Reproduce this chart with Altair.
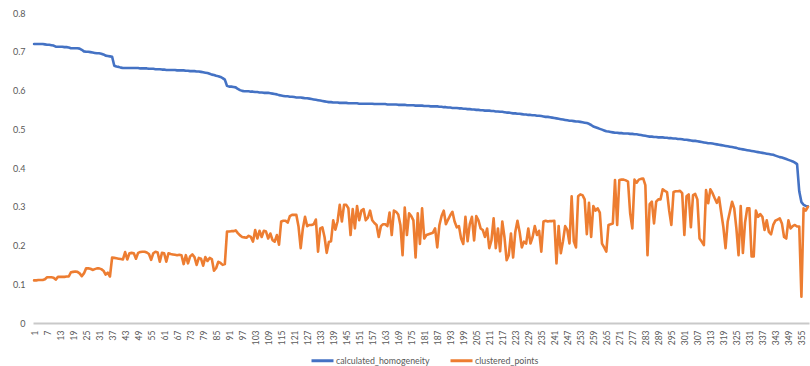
import altair as alt
import pandas as pd

# Series names and colours
series_names = ["calculated_homogeneity", "clustered_points"]
series_colors = ["#4472C4", "#ED7D31"]

# calculated_homogeneity, one value per item (1..358)
homogeneity = [
    0.720, 0.720, 0.720, 0.720, 0.720, 0.719, 0.718, 0.718, 0.717, 0.716,
    0.713, 0.713, 0.713, 0.713, 0.712, 0.712, 0.711, 0.709, 0.709, 0.709,
    0.709, 0.708, 0.705, 0.701, 0.700, 0.700, 0.699, 0.698, 0.697, 0.696,
    0.696, 0.695, 0.693, 0.690, 0.689, 0.688, 0.687, 0.664, 0.662, 0.661,
    0.659, 0.658, 0.658, 0.658, 0.658, 0.658, 0.658, 0.658, 0.658, 0.657,
    0.657, 0.657, 0.657, 0.656, 0.656, 0.656, 0.655, 0.655, 0.655, 0.654,
    0.654, 0.653, 0.653, 0.653, 0.653, 0.653, 0.652, 0.652, 0.652, 0.652,
    0.651, 0.651, 0.650, 0.650, 0.650, 0.649, 0.649, 0.648, 0.647, 0.646,
    0.645, 0.643, 0.641, 0.640, 0.638, 0.637, 0.635, 0.632, 0.628, 0.612,
    0.610, 0.610, 0.609, 0.608, 0.604, 0.601, 0.599, 0.598, 0.598, 0.598,
    0.597, 0.597, 0.596, 0.596, 0.595, 0.595, 0.594, 0.594, 0.594, 0.593,
    0.592, 0.591, 0.590, 0.588, 0.587, 0.586, 0.585, 0.585, 0.584, 0.584,
    0.583, 0.582, 0.582, 0.582, 0.581, 0.580, 0.580, 0.579, 0.578, 0.577,
    0.576, 0.575, 0.574, 0.573, 0.572, 0.571, 0.570, 0.570, 0.569, 0.569,
    0.569, 0.568, 0.568, 0.568, 0.568, 0.567, 0.567, 0.567, 0.567, 0.567,
    0.566, 0.566, 0.566, 0.566, 0.566, 0.566, 0.566, 0.565, 0.565, 0.565,
    0.565, 0.565, 0.565, 0.564, 0.564, 0.564, 0.564, 0.564, 0.563, 0.563,
    0.563, 0.563, 0.562, 0.562, 0.562, 0.562, 0.561, 0.561, 0.561, 0.561,
    0.560, 0.560, 0.560, 0.559, 0.559, 0.559, 0.559, 0.558, 0.558, 0.557,
    0.557, 0.556, 0.556, 0.555, 0.555, 0.555, 0.554, 0.554, 0.553, 0.553,
    0.552, 0.552, 0.551, 0.551, 0.550, 0.550, 0.549, 0.549, 0.548, 0.548,
    0.548, 0.547, 0.547, 0.546, 0.546, 0.545, 0.545, 0.544, 0.543, 0.543,
    0.542, 0.541, 0.541, 0.540, 0.540, 0.539, 0.538, 0.538, 0.537, 0.537,
    0.536, 0.536, 0.535, 0.535, 0.534, 0.533, 0.532, 0.532, 0.531, 0.530,
    0.529, 0.528, 0.527, 0.526, 0.525, 0.524, 0.523, 0.522, 0.522, 0.521,
    0.520, 0.520, 0.519, 0.518, 0.517, 0.516, 0.514, 0.511, 0.507, 0.505,
    0.503, 0.501, 0.499, 0.497, 0.495, 0.494, 0.493, 0.492, 0.491, 0.491,
    0.490, 0.490, 0.489, 0.489, 0.489, 0.488, 0.488, 0.487, 0.487, 0.486,
    0.485, 0.484, 0.483, 0.482, 0.481, 0.481, 0.480, 0.480, 0.479, 0.479,
    0.479, 0.478, 0.478, 0.477, 0.477, 0.476, 0.476, 0.475, 0.475, 0.474,
    0.473, 0.473, 0.472, 0.471, 0.470, 0.470, 0.469, 0.468, 0.467, 0.466,
    0.465, 0.464, 0.464, 0.463, 0.462, 0.461, 0.460, 0.459, 0.458, 0.457,
    0.456, 0.455, 0.454, 0.453, 0.452, 0.450, 0.449, 0.448, 0.447, 0.446,
    0.445, 0.444, 0.443, 0.442, 0.441, 0.440, 0.439, 0.438, 0.437, 0.436,
    0.435, 0.434, 0.432, 0.430, 0.428, 0.427, 0.425, 0.423, 0.421, 0.419,
    0.417, 0.414, 0.410, 0.340, 0.312, 0.305, 0.302, 0.301,
]

# clustered_points, one value per item (1..358)
clustered = [
    0.110, 0.110, 0.111, 0.111, 0.111, 0.113, 0.118, 0.118, 0.118, 0.117,
    0.112, 0.119, 0.119, 0.119, 0.119, 0.120, 0.120, 0.131, 0.132, 0.133,
    0.132, 0.128, 0.121, 0.128, 0.141, 0.141, 0.140, 0.137, 0.139, 0.141,
    0.141, 0.139, 0.135, 0.125, 0.130, 0.120, 0.169, 0.168, 0.167, 0.166,
    0.165, 0.164, 0.183, 0.164, 0.180, 0.181, 0.180, 0.166, 0.181, 0.183,
    0.184, 0.184, 0.182, 0.178, 0.163, 0.180, 0.184, 0.182, 0.158, 0.181,
    0.180, 0.158, 0.180, 0.178, 0.177, 0.176, 0.175, 0.176, 0.175, 0.152,
    0.175, 0.154, 0.172, 0.177, 0.170, 0.150, 0.168, 0.166, 0.148, 0.170,
    0.160, 0.168, 0.165, 0.135, 0.142, 0.158, 0.155, 0.150, 0.152, 0.236,
    0.236, 0.237, 0.237, 0.239, 0.232, 0.226, 0.222, 0.221, 0.220, 0.225,
    0.222, 0.210, 0.240, 0.218, 0.238, 0.222, 0.238, 0.236, 0.218, 0.231,
    0.214, 0.210, 0.227, 0.202, 0.262, 0.264, 0.264, 0.259, 0.276, 0.279,
    0.279, 0.279, 0.249, 0.193, 0.244, 0.274, 0.250, 0.253, 0.253, 0.255,
    0.267, 0.184, 0.244, 0.247, 0.222, 0.181, 0.209, 0.211, 0.265, 0.241,
    0.262, 0.305, 0.262, 0.305, 0.305, 0.296, 0.227, 0.294, 0.244, 0.302,
    0.265, 0.290, 0.294, 0.265, 0.272, 0.290, 0.265, 0.258, 0.253, 0.222,
    0.250, 0.255, 0.255, 0.250, 0.285, 0.227, 0.290, 0.287, 0.280, 0.253,
    0.175, 0.298, 0.227, 0.283, 0.276, 0.265, 0.169, 0.283, 0.204, 0.296,
    0.218, 0.227, 0.229, 0.231, 0.233, 0.244, 0.195, 0.253, 0.276, 0.290,
    0.255, 0.267, 0.278, 0.287, 0.262, 0.247, 0.250, 0.218, 0.204, 0.274,
    0.211, 0.255, 0.274, 0.213, 0.276, 0.265, 0.244, 0.240, 0.222, 0.244,
    0.193, 0.213, 0.270, 0.193, 0.244, 0.185, 0.262, 0.222, 0.162, 0.175,
    0.231, 0.169, 0.235, 0.264, 0.235, 0.195, 0.210, 0.205, 0.244, 0.205,
    0.222, 0.250, 0.227, 0.238, 0.184, 0.262, 0.264, 0.262, 0.263, 0.263,
    0.264, 0.154, 0.250, 0.180, 0.211, 0.250, 0.240, 0.205, 0.327, 0.211,
    0.195, 0.327, 0.332, 0.330, 0.319, 0.229, 0.310, 0.222, 0.302, 0.290,
    0.296, 0.285, 0.205, 0.195, 0.184, 0.253, 0.255, 0.257, 0.369, 0.253,
    0.369, 0.370, 0.370, 0.368, 0.365, 0.283, 0.244, 0.370, 0.362, 0.370,
    0.372, 0.373, 0.356, 0.175, 0.307, 0.313, 0.257, 0.313, 0.319, 0.319,
    0.345, 0.341, 0.338, 0.290, 0.253, 0.338, 0.340, 0.340, 0.341, 0.335,
    0.227, 0.327, 0.332, 0.247, 0.330, 0.333, 0.319, 0.218, 0.210, 0.201,
    0.343, 0.309, 0.345, 0.335, 0.322, 0.310, 0.324, 0.285, 0.247, 0.193,
    0.262, 0.287, 0.313, 0.296, 0.244, 0.175, 0.302, 0.181, 0.259, 0.296,
    0.296, 0.172, 0.172, 0.290, 0.274, 0.281, 0.274, 0.240, 0.265, 0.235,
    0.229, 0.253, 0.264, 0.267, 0.270, 0.257, 0.222, 0.218, 0.265, 0.244,
    0.250, 0.253, 0.249, 0.249, 0.068, 0.296, 0.290, 0.300,
]

# Category axis labels (every sixth item) and value axis labels
x_tick_labels = [
    1, 7, 13, 19, 25, 31, 37, 43, 49, 55, 61, 67, 73, 79, 85, 91, 97, 103,
    109, 115, 121, 127, 133, 139, 145, 151, 157, 163, 169, 175, 181, 187,
    193, 199, 205, 211, 217, 223, 229, 235, 241, 247, 253, 259, 265, 271,
    277, 283, 289, 295, 301, 307, 313, 319, 325, 331, 337, 343, 349, 355,
]
y_tick_labels = [0, 0.1, 0.2, 0.3, 0.4, 0.5, 0.6, 0.7, 0.8]

n = len(homogeneity)
items = list(range(1, n + 1))
df = pd.DataFrame({
    "item": items + items,
    "value": homogeneity + clustered,
    "series": [series_names[0]] * n + [series_names[1]] * len(clustered),
})

FONT = "Lato"
TEXT = "#595959"

chart = (
    alt.Chart(df)
    .mark_line(strokeWidth=2.6, strokeJoin="round", strokeCap="round")
    .encode(
        x=alt.X(
            "item:Q",
            scale=alt.Scale(domain=[0.5, n + 0.5], nice=False, zero=False),
            axis=alt.Axis(
                values=x_tick_labels,
                labelAngle=270,
                title=None,
                grid=False,
                ticks=False,
                domainColor="#C9C9C9",
                domainWidth=2,
                labelFont=FONT,
                labelFontSize=8.5,
                labelColor=TEXT,
                labelPadding=7,
                labelOverlap=False,
                labelFlush=False,
            ),
        ),
        y=alt.Y(
            "value:Q",
            scale=alt.Scale(domain=[0, 0.8], nice=False),
            axis=alt.Axis(
                values=y_tick_labels,
                format="~g",
                title=None,
                grid=False,
                ticks=False,
                domain=False,
                labelFont=FONT,
                labelFontSize=9,
                labelColor=TEXT,
                labelPadding=8,
                labelFlush=False,
            ),
        ),
        color=alt.Color(
            "series:N",
            scale=alt.Scale(domain=series_names, range=series_colors),
            legend=alt.Legend(
                title=None,
                orient="none",
                legendX=277,
                legendY=335,
                direction="horizontal",
                symbolType="stroke",
                symbolSize=484,
                symbolStrokeWidth=3,
                labelFont=FONT,
                labelFontSize=8.8,
                labelColor=TEXT,
                labelOffset=1,
                columnPadding=14,
            ),
        ),
    )
    .properties(
        width=776,
        height=310,
        autosize="none",
        padding={"left": 33, "top": 13, "right": 1, "bottom": 43},
    )
    .configure_view(strokeWidth=0)
)

chart.save("out.html", embed_options={"renderer": "svg", "actions": False})
